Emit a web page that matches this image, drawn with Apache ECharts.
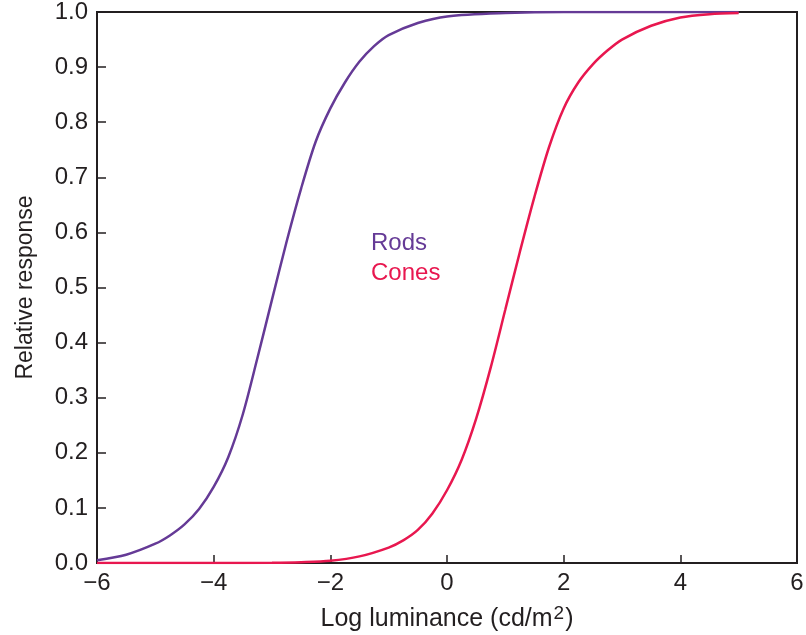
<!DOCTYPE html>
<html>
<head>
<meta charset="utf-8">
<script src="https://cdn.jsdelivr.net/npm/echarts@6/dist/echarts.min.js"></script>
<style>html,body{margin:0;padding:0;background:#fff;}#c{width:806px;height:635px;}</style>
</head>
<body>
<div id="c"></div>
<script>
var rodsX = [-6.0,-5.5,-5.0,-4.75,-4.5,-4.25,-4.0,-3.75,-3.5,-3.25,-3.0,-2.75,-2.5,-2.25,-2.0,-1.75,-1.5,-1.25,-1.0,-0.5,0.0,1.0,2.0,3.0,4.0,5.0];
var rodsY = [0.005,0.015,0.035,0.050,0.070,0.098,0.138,0.192,0.270,0.372,0.478,0.583,0.680,0.765,0.825,0.872,0.910,0.938,0.958,0.980,0.992,0.998,1.0,1.0,1.0,1.0];
var conesX = [-6.0,-4.0,-3.0,-2.5,-2.0,-1.5,-1.0,-0.75,-0.5,-0.25,0.0,0.25,0.5,0.75,1.0,1.25,1.5,1.75,2.0,2.25,2.5,2.75,3.0,3.5,4.0,4.5,5.0];
var conesY = [0.0,0.0,0.0005,0.0015,0.004,0.012,0.028,0.041,0.060,0.090,0.132,0.187,0.262,0.355,0.460,0.565,0.665,0.755,0.825,0.872,0.905,0.930,0.950,0.975,0.990,0.996,0.998];
var xTicks = [-6,-4,-2,0,2,4,6];
var yTicks = [0,0.1,0.2,0.3,0.4,0.5,0.6,0.7,0.8,0.9,1.0];
var seriesNames = ['Rods','Cones'];
var xTitle = 'Log luminance (cd/m';
var yTitle = 'Relative response';

var ink = '#231f20';
var rodsColor = '#653a96';
var conesColor = '#e8174f';
var font = 'Liberation Sans, Arial, Helvetica, sans-serif';

function pairs(xs, ys){ return xs.map(function(x,i){ return [x, ys[i]]; }); }

var chart = echarts.init(document.getElementById('c'), null, {renderer:'canvas'});
chart.setOption({
  animation: false,
  backgroundColor: '#fff',
  grid: {left: 97, right: 9, top: 12, bottom: 72, outerBoundsMode: 'none', containLabel: false,
         show: true, borderColor: ink, borderWidth: 2, backgroundColor: 'transparent'},
  xAxis: {
    type: 'value', min: -6, max: 6, interval: 2,
    axisLine: {show: true, onZero: false, lineStyle: {color: ink, width: 2}},
    axisTick: {show: true, inside: true, length: 8, lineStyle: {color: ink, width: 1.5}},
    splitLine: {show: false},
    axisLabel: {color: ink, fontSize: 24, fontFamily: font, margin: 8,
      formatter: function(v){ return v < 0 ? '\u2212' + Math.abs(v) : String(v); }},
    name: '{a|' + xTitle + '}{s|2}{a|)}',
    nameLocation: 'middle', nameGap: 41,
    nameTextStyle: {rich: {
      a: {fontSize: 25, fontFamily: font, color: ink, lineHeight: 30},
      s: {fontSize: 19, fontFamily: font, color: ink, verticalAlign: 'top', lineHeight: 30, padding: [0,1,8,1]}
    }}
  },
  yAxis: {
    type: 'value', min: 0, max: 1, interval: 0.1,
    axisLine: {show: true, onZero: false, lineStyle: {color: ink, width: 2}},
    axisTick: {show: true, inside: true, length: 9, lineStyle: {color: ink, width: 1.5}},
    splitLine: {show: false},
    axisLabel: {color: ink, fontSize: 24, fontFamily: font, margin: 9,
      formatter: function(v){ return v.toFixed(1); }},
    name: yTitle, nameLocation: 'middle', nameGap: 60, nameRotate: 90,
    nameTextStyle: {fontSize: 23, fontFamily: font, color: ink}
  },
  series: [
    {name: seriesNames[0], type: 'line', data: pairs(rodsX, rodsY), showSymbol: false, smooth: 0.3,
     lineStyle: {color: rodsColor, width: 2.5}, z: 3},
    {name: seriesNames[1], type: 'line', data: pairs(conesX, conesY), showSymbol: false, smooth: 0.3,
     lineStyle: {color: conesColor, width: 2.5}, z: 4}
  ],
  graphic: [
    {type: 'text', left: 371, top: 231, style: {text: seriesNames[0], fill: rodsColor, font: '24px ' + font}},
    {type: 'text', left: 371, top: 261, style: {text: seriesNames[1], fill: conesColor, font: '24px ' + font}}
  ]
});
</script>
</body>
</html>
